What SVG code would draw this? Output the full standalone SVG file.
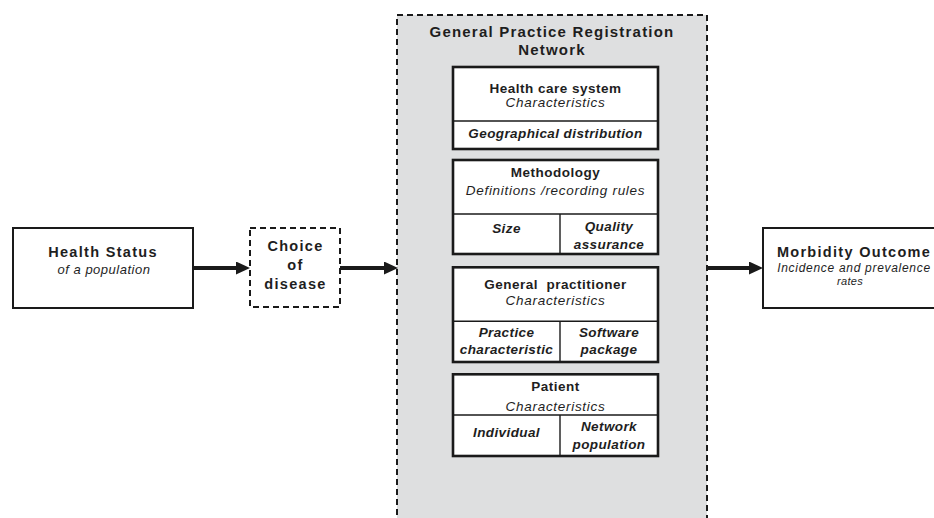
<svg xmlns="http://www.w3.org/2000/svg" width="934" height="518" viewBox="0 0 934 518">
<defs>
<style>
text{font-family:"Liberation Sans",Arial,Helvetica,sans-serif;fill:#1e1e1e;text-anchor:middle}
.big{font-size:14.5px;font-weight:bold;letter-spacing:1.3px}
.ttl{font-size:15px;font-weight:bold;letter-spacing:1.2px}
.hd{font-size:13.5px;font-weight:bold;letter-spacing:0.5px}
.it{font-size:13.5px;font-style:italic;letter-spacing:0.7px}
.bi{font-size:13.5px;font-weight:bold;font-style:italic;letter-spacing:0.4px}
.sit{font-size:13px;font-style:italic;letter-spacing:0.5px}
.box{fill:#fff;stroke:#1a1a1a;stroke-width:2}
.inner{fill:#fff;stroke:#1a1a1a;stroke-width:2.6}
.div{stroke:#1a1a1a;stroke-width:1.4;fill:none}
.dash{stroke:#1a1a1a;stroke-width:2;stroke-dasharray:6 4}
.conn{stroke:#1a1a1a;stroke-width:4;fill:none}
</style>
<marker id="ah" viewBox="0 0 14 13" refX="1" refY="6.5" markerWidth="14" markerHeight="13" markerUnits="userSpaceOnUse" orient="auto">
<path d="M0,0 L14,6.5 L0,13 z" fill="#1a1a1a"/>
</marker>
</defs>
<rect width="934" height="518" fill="#fff"/>

<g id="network">
<rect x="397" y="15" width="310" height="520" fill="#dedfe0" class="dash"/>
<text class="ttl" x="552" y="36.7">General Practice Registration</text>
<text class="ttl" x="552" y="55">Network</text>
</g>

<g id="health-care-system">
<rect class="inner" x="453" y="67" width="205" height="82"/>
<line class="div" x1="453" y1="121" x2="658" y2="121"/>
<text class="hd" x="555.5" y="92.7">Health care system</text>
<text class="it" x="555.5" y="107">Characteristics</text>
<text class="bi" x="555.5" y="138">Geographical distribution</text>
</g>

<g id="methodology">
<rect class="inner" x="453" y="160" width="205" height="94"/>
<line class="div" x1="453" y1="214" x2="658" y2="214"/>
<line class="div" x1="560" y1="214" x2="560" y2="254"/>
<text class="hd" x="555.5" y="177.3">Methodology</text>
<text class="it" x="555.5" y="195">Definitions /recording rules</text>
<text class="bi" x="506.5" y="233.3">Size</text>
<text class="bi" x="609" y="230.7">Quality</text>
<text class="bi" x="609" y="249.3">assurance</text>
</g>

<g id="general-practitioner">
<rect class="inner" x="453" y="267.3" width="205" height="94.7"/>
<line class="div" x1="453" y1="321.3" x2="658" y2="321.3"/>
<line class="div" x1="560" y1="321.3" x2="560" y2="362"/>
<text class="hd" x="555.5" y="289">General&#160; practitioner</text>
<text class="it" x="555.5" y="305">Characteristics</text>
<text class="bi" x="506.5" y="336.7">Practice</text>
<text class="bi" x="506.5" y="354.3">characteristic</text>
<text class="bi" x="609" y="336.7">Software</text>
<text class="bi" x="609" y="354.3">package</text>
</g>

<g id="patient">
<rect class="inner" x="453" y="374.3" width="205" height="81.7"/>
<line class="div" x1="453" y1="415" x2="658" y2="415"/>
<line class="div" x1="560" y1="415" x2="560" y2="456"/>
<text class="hd" x="555.5" y="390.7">Patient</text>
<text class="it" x="555.5" y="410.7">Characteristics</text>
<text class="bi" x="506.5" y="436.7">Individual</text>
<text class="bi" x="609" y="430.7">Network</text>
<text class="bi" x="609" y="449">population</text>
</g>

<g id="health-status">
<rect class="box" x="13" y="228" width="180" height="80"/>
<text class="big" x="103" y="256.7">Health Status</text>
<text class="sit" x="104" y="274.3">of a population</text>
</g>

<g id="choice-of-disease">
<rect x="250" y="228" width="90" height="79" fill="#fff" class="dash"/>
<text class="big" x="295.5" y="250.7">Choice</text>
<text class="big" x="295.5" y="270">of</text>
<text class="big" x="295.5" y="289">disease</text>
</g>

<g id="morbidity-outcome">
<rect class="box" x="763" y="228" width="200" height="80"/>
<text class="big" x="854" y="256.7">Morbidity Outcome</text>
<text class="sit" x="854" y="272.3" style="font-size:12px;letter-spacing:0.7px">Incidence and prevalence</text>
<text class="sit" x="850" y="285" style="font-size:11px;letter-spacing:0.3px">rates</text>
</g>

<g id="connectors">
<line class="conn" x1="193" y1="268" x2="237" y2="268" marker-end="url(#ah)"/>
<line class="conn" x1="340" y1="268" x2="385" y2="268" marker-end="url(#ah)"/>
<line class="conn" x1="707" y1="268" x2="750" y2="268" marker-end="url(#ah)"/>
</g>
</svg>
